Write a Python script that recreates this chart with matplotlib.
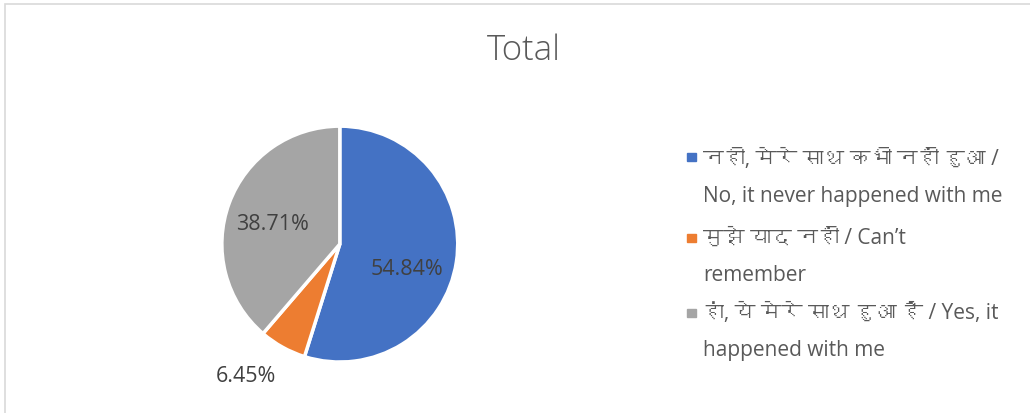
import matplotlib
matplotlib.use("Agg")
import matplotlib.pyplot as plt
from matplotlib import font_manager
from matplotlib.ft2font import FT2Font
from matplotlib.patches import Rectangle
import numpy as np

title = "Total"
labels = ["नही, मेरे साथ कभी नहीं हुआ /\nNo, it never happened with me",
          "मुझे याद नहीं / Can’t\nremember",
          "हां, ये मेरे साथ हुआ है / Yes, it\nhappened with me"]
values = [54.84, 6.45, 38.71]
colors = ["#4472C4", "#ED7D31", "#A5A5A5"]

# look for any installed font that has devanagari glyphs
deva = []
for f in font_manager.fontManager.ttflist:
    try:
        cm = FT2Font(f.fname).get_charmap()
    except Exception:
        continue
    if 0x0928 in cm and f.name not in deva:
        deva.append(f.name)

fams = ["Open Sans"] + deva + ["DejaVu Sans"]
plt.rcParams['font.family'] = fams

fig = plt.figure(figsize=(10.3, 4.14), dpi=100)
fig.patches.append(Rectangle((0.005, -0.1), 1.2, 1.087, transform=fig.transFigure,
                             fill=False, edgecolor="#D9D9D9", linewidth=1.2))

fig.text(0.509, 0.878, title, ha="center", va="center", fontsize=25,
         fontweight="light", color="#595959")

ax = fig.add_axes([0.330 - 0.1146, 0.408 - 0.285, 0.229, 0.570])
wedges, texts, autotexts = ax.pie(values, colors=colors, startangle=90, counterclock=False,
                                  autopct="%.2f%%", pctdistance=0.58,
                                  wedgeprops=dict(edgecolor="white", linewidth=2.5),
                                  textprops=dict(fontsize=15.5, color="#404040"))
ax.set_xlim(-1, 1)
ax.set_ylim(-1, 1)
ax.set_aspect("equal")

# excel puts the big label a bit lower
x0, y0 = autotexts[0].get_position()
autotexts[0].set_position((x0, y0 - 0.12))
x2, y2 = autotexts[2].get_position()
autotexts[2].set_position((x2 - 0.03, y2 - 0.03))
# small slice label goes outside
w = wedges[1]
ang = np.deg2rad((w.theta1 + w.theta2) / 2)
autotexts[1].set_position((1.35 * np.cos(ang) - 0.14, 1.3 * np.sin(ang) + 0.02))

# legend drawn by hand so the square sits on the first line
tops = [0.640, 0.449, 0.268]
sq = [0.609, 0.413, 0.232]
for lab, col, t, s in zip(labels, colors, tops, sq):
    fig.text(0.683, t, lab, ha="left", va="top", fontsize=15, color="#595959",
             linespacing=2.0)
    fig.patches.append(Rectangle((0.667, s), 0.0087, 0.019,
                                 transform=fig.transFigure, color=col))

fig.savefig("out.png", dpi=100)
